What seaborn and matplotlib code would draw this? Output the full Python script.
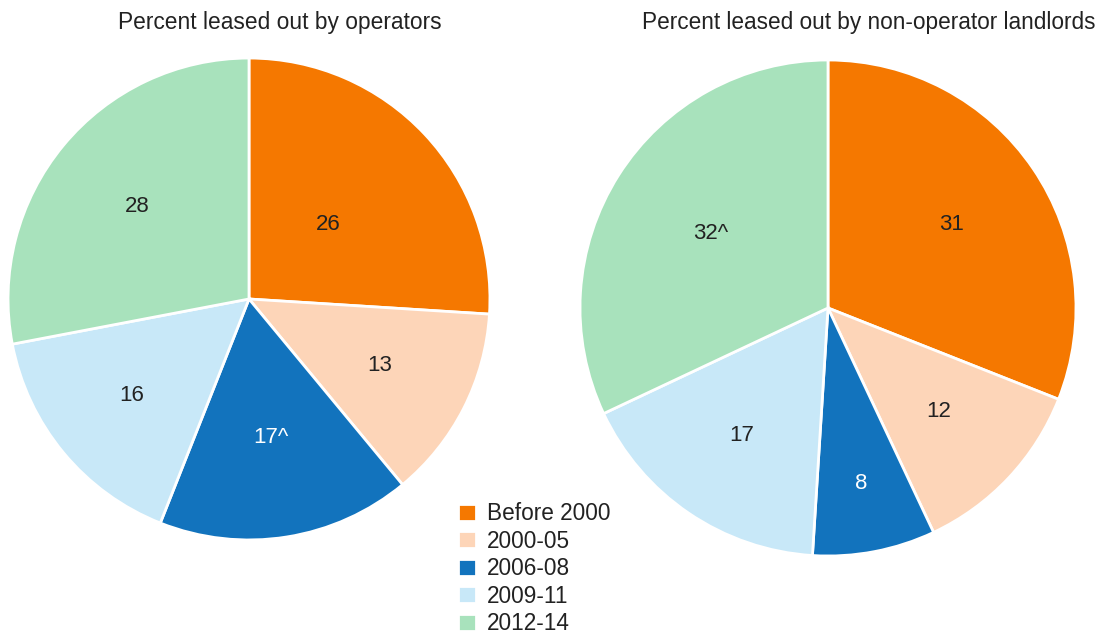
import matplotlib.pyplot as plt
import seaborn as sns

# Data
periods = ['Before 2000', '2000-05', '2006-08', '2009-11', '2012-14']
operators = [26, 13, 17, 16, 28]
operator_labels = ['26', '13', '17^', '16', '28']
landlords = [31, 12, 8, 17, 32]
landlord_labels = ['31', '12', '8', '17', '32^']
colors = ['#F57800', '#FDD5B8', '#1273BD', '#C8E8F8', '#A8E2BC']
label_colors = ['#222222', '#222222', 'white', '#222222', '#222222']

sns.set_theme(style='white')
plt.rcParams['font.family'] = ['Liberation Sans', 'DejaVu Sans']

fig = plt.figure(figsize=(11.1, 6.38), dpi=100)
lim = 1.05
ax1 = fig.add_axes([-4 / 1110, 86 / 638, 506 / 1110, 506 / 638])
ax2 = fig.add_axes([567.6 / 1110, 69.6 / 638, 520.8 / 1110, 520.8 / 638])


def draw_pie(ax, values, labels, dists):
    wedges, texts = ax.pie(values, labels=labels, colors=colors, startangle=90,
                           counterclock=False, labeldistance=0.6,
                           wedgeprops=dict(edgecolor='white', linewidth=2),
                           textprops=dict(fontsize=16, ha='center', va='center'))
    for t, c, d in zip(texts, label_colors, dists):
        x, y = t.get_position()
        t.set_position((x * d / 0.6, y * d / 0.6))
        t.set_color(c)
        t.set_ha('center')
        t.set_va('center')
    ax.set_xlim(-lim, lim)
    ax.set_ylim(-lim, lim)
    ax.set_aspect('equal')
    ax.axis('off')
    return wedges


wedges = draw_pie(ax1, operators, operator_labels, [0.45, 0.61, 0.58, 0.63, 0.6])
draw_pie(ax2, landlords, landlord_labels, [0.6, 0.61, 0.72, 0.62, 0.56])

fig.text(280 / 1110, 1 - 22 / 638, 'Percent leased out by operators',
         fontsize=16.4, ha='center', va='center', color='#222222')
fig.text(869 / 1110, 1 - 22 / 638, 'Percent leased out by non-operator landlords',
         fontsize=16.3, ha='center', va='center', color='#222222')

fig.legend(wedges, periods, loc='upper left', bbox_to_anchor=(456 / 1110, 1 - 500 / 638),
           frameon=False, fontsize=16.3, handlelength=0.78, handleheight=0.78,
           handletextpad=0.5, labelspacing=0.2, borderaxespad=0, borderpad=0.1,
           labelcolor='#222222')

fig.savefig('out.png', dpi=100)
